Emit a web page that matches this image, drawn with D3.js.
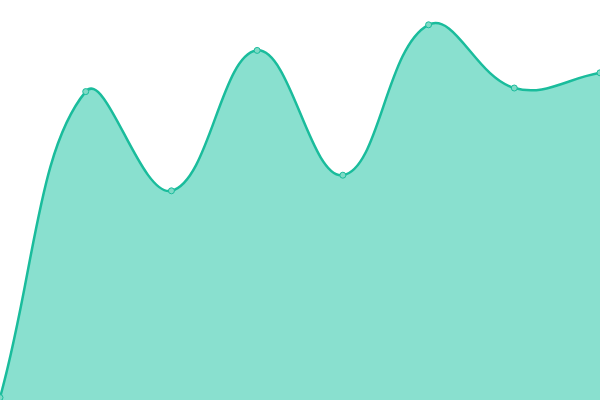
<!DOCTYPE html>
<html>
<head>
<meta charset="utf-8">
<style>
  html, body { margin: 0; padding: 0; background: #fff; }
  svg { display: block; }
</style>
<script src="https://cdn.jsdelivr.net/npm/d3@7"></script>
</head>
<body>
<div id="chart"></div>
<script>
// data
const labels = [0, 1, 2, 3, 4, 5, 6, 7];
const values = [0.6, 77.1, 52.3, 87.4, 56.2, 93.8, 78.0, 81.8];

const width = 600, height = 400;
const tension = 0.4;

// spline with distance weighted tangents (the rounder look of the reference)
function SplineCurve(context) { this._context = context; }
SplineCurve.prototype = {
  areaStart: function() { this._line = 0; },
  areaEnd: function() { this._line = NaN; },
  lineStart: function() { this._pts = []; },
  point: function(x, y) { this._pts.push([+x, +y]); },
  lineEnd: function() {
    const p = this._pts, n = p.length, c = this._context;
    if (n) {
      this._line ? c.lineTo(p[0][0], p[0][1]) : c.moveTo(p[0][0], p[0][1]);
      const cps = p.map((cur, i) => {
        const prev = p[i - 1] || cur, next = p[i + 1] || cur;
        const d01 = Math.hypot(cur[0] - prev[0], cur[1] - prev[1]);
        const d12 = Math.hypot(next[0] - cur[0], next[1] - cur[1]);
        let s01 = d01 / (d01 + d12), s12 = d12 / (d01 + d12);
        if (isNaN(s01)) s01 = 0;
        if (isNaN(s12)) s12 = 0;
        const fa = tension * s01, fb = tension * s12;
        const clampX = v => Math.max(0, Math.min(width, v));
        const clampY = v => Math.max(0, Math.min(height, v));
        return {
          prev: [clampX(cur[0] - fa * (next[0] - prev[0])), clampY(cur[1] - fa * (next[1] - prev[1]))],
          next: [clampX(cur[0] + fb * (next[0] - prev[0])), clampY(cur[1] + fb * (next[1] - prev[1]))]
        };
      });
      for (let i = 1; i < n; i++) {
        c.bezierCurveTo(cps[i - 1].next[0], cps[i - 1].next[1],
                        cps[i].prev[0], cps[i].prev[1], p[i][0], p[i][1]);
      }
    }
    if (this._line || (this._line !== 0 && n === 1)) c.closePath();
    this._line = 1 - this._line;
  }
};
const curveSpline = context => new SplineCurve(context);

const svg = d3.select("#chart")
  .append("svg")
  .attr("width", width)
  .attr("height", height);

const x = d3.scaleLinear()
  .domain([0, labels.length - 1])
  .range([0, width]);

const y = d3.scaleLinear()
  .domain([0, 100])
  .range([height, 0]);

const data = labels.map((l, i) => ({ i: l, v: values[i] }));

const area = d3.area()
  .x(d => x(d.i))
  .y0(height)
  .y1(d => y(d.v))
  .curve(curveSpline);

const line = d3.line()
  .x(d => x(d.i))
  .y(d => y(d.v))
  .curve(curveSpline);

svg.append("path")
  .datum(data)
  .attr("d", area)
  .attr("fill", "#89e0cf");

svg.append("path")
  .datum(data)
  .attr("d", line)
  .attr("fill", "none")
  .attr("stroke", "#1abc9c")
  .attr("stroke-width", 2.5);

svg.selectAll("circle")
  .data(data)
  .enter().append("circle")
    .attr("cx", d => x(d.i))
    .attr("cy", d => y(d.v))
    .attr("r", 3)
    .attr("fill", "#7fdac6")
    .attr("stroke", "#1abc9c")
    .attr("stroke-width", 1);
</script>
</body>
</html>
